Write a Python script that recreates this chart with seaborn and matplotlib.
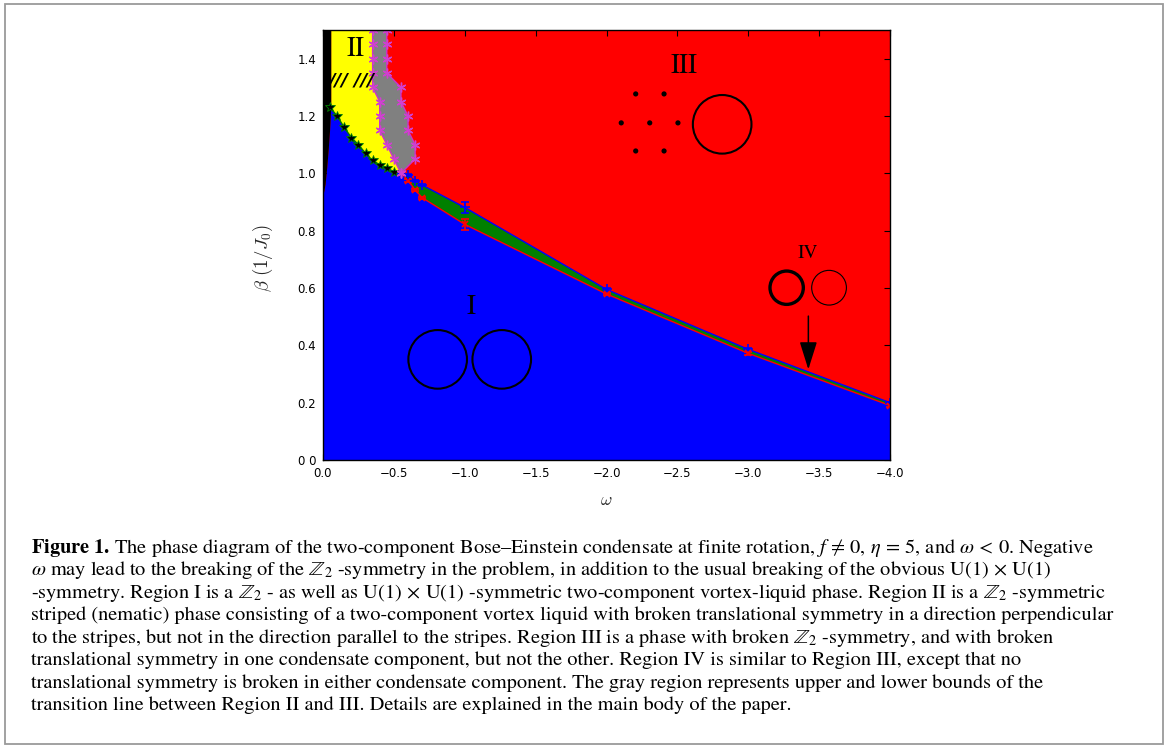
import matplotlib
matplotlib.use("Agg")
import matplotlib.pyplot as plt
from matplotlib.patches import Rectangle
import numpy as np
import pandas as pd
import seaborn as sns

# ---- phase boundaries (omega, beta) ----
# black sliver at omega -> 0 and its edge against region I
edge_w = [-0.058, -0.058, -0.05, -0.04, -0.03, -0.018, 0.0]
edge_b = [1.50, 1.228, 1.15, 1.08, 1.02, 0.96, 0.915]

# II / I boundary (stars)
star_w = [-0.05, -0.10, -0.15, -0.20, -0.25, -0.30, -0.35, -0.40, -0.45, -0.50]
star_b = [1.23, 1.20, 1.16, 1.125, 1.10, 1.07, 1.045, 1.03, 1.02, 1.005]

# gray band: lower and upper bounds of the II / III transition
gray_b = [1.50, 1.45, 1.40, 1.35, 1.30, 1.25, 1.20, 1.15, 1.10, 1.05, 1.00]
gray_lo = [-0.35, -0.35, -0.35, -0.35, -0.35, -0.40, -0.40, -0.40, -0.45, -0.50, -0.55]
gray_hi = [-0.45, -0.45, -0.45, -0.45, -0.55, -0.55, -0.60, -0.60, -0.65, -0.65, -0.55]

# IV band: upper (III side) and lower (I side) boundaries with error bars
band_w = [-0.60, -0.65, -0.70, -1.00, -2.00, -3.00, -4.00]
upper_b = [0.994, 0.974, 0.959, 0.881, 0.595, 0.386, 0.200]
upper_err = [0.004, 0.004, 0.004, 0.020, 0.005, 0.005, 0.004]
lower_b = [0.975, 0.942, 0.915, 0.822, 0.579, 0.372, 0.190]
lower_err = [0.004, 0.004, 0.004, 0.020, 0.005, 0.005, 0.004]

# triangular lattice sketch in region III
dots_w = [-2.206, -2.406, -2.104, -2.305, -2.504, -2.206, -2.406]
dots_b = [1.277, 1.277, 1.176, 1.176, 1.176, 1.078, 1.078]

x_ticks = [0.0, -0.5, -1.0, -1.5, -2.0, -2.5, -3.0, -3.5, -4.0]
x_labels = ["0.0", "\u22120.5", "\u22121.0", "\u22121.5", "\u22122.0", "\u22122.5",
            "\u22123.0", "\u22123.5", "\u22124.0"]
y_ticks = [0.0, 0.2, 0.4, 0.6, 0.8, 1.0, 1.2, 1.4]
y_labels = ["0 0", "0.2", "0.4", "0.6", "0.8", "1.0", "1.2", "1.4"]

caption_lines = [
    r"$\mathbf{Figure\ 1.}\,$The phase diagram of the two-component Bose–Einstein condensate at finite rotation, "
    r"$f\,\neq\,0$, $\eta\,=\,5$, and $\omega\,<\,0$. Negative",
    r"$\omega$ may lead to the breaking of the $\mathbb{Z}_2$ -symmetry in the problem, in addition to the usual "
    r"breaking of the obvious $\mathrm{U}(1)\,\times\,\mathrm{U}(1)$",
    r"-symmetry. Region I is a $\mathbb{Z}_2$ - as well as $\mathrm{U}(1)\,\times\,\mathrm{U}(1)$ -symmetric "
    r"two-component vortex-liquid phase. Region II is a $\mathbb{Z}_2$ -symmetric",
    "striped (nematic) phase consisting of a two-component vortex liquid with broken translational symmetry "
    "in a direction perpendicular",
    r"to the stripes, but not in the direction parallel to the stripes. Region III is a phase with broken "
    r"$\mathbb{Z}_2$ -symmetry, and with broken",
    "translational symmetry in one condensate component, but not the other. Region IV is similar to "
    "Region III, except that no",
    "translational symmetry is broken in either condensate component. The gray region represents upper "
    "and lower bounds of the",
    "transition line between Region II and III. Details are explained in the main body of the paper.",
]

# ---- style ----
sns.set_style("ticks")
plt.rcParams.update({
    "font.family": ["DejaVu Sans"],
    "xtick.direction": "in", "ytick.direction": "in",
    "xtick.top": True, "ytick.right": True,
    "xtick.major.size": 4, "ytick.major.size": 4,
    "xtick.major.width": 0.8, "ytick.major.width": 0.8,
    "axes.linewidth": 1.0, "axes.edgecolor": "black",
    "xtick.color": "black", "ytick.color": "black",
})

W, H = 1168, 749
fig = plt.figure(figsize=(W / 100, H / 100), dpi=100)
fig.patch.set_facecolor("white")
ax = fig.add_axes([323 / W, 1 - 460 / H, (890 - 323) / W, (460 - 30) / H])
ax.set_facecolor("#ff0000")

# region I (blue)
blue_w = [0.0, 0.0] + edge_w[::-1][1:-1] + star_w + [-0.55] + band_w + [-4.0]
blue_b = [0.0, 0.915] + edge_b[::-1][1:-1] + star_b + [1.0] + lower_b + [0.0]
ax.fill(blue_w, blue_b, color="#0000ff", lw=0, zorder=1)

# region IV (green) between the two band lines
green_w = [-0.55] + band_w + band_w[::-1]
green_b = [1.0] + upper_b + lower_b[::-1]
ax.fill(green_w, green_b, color="#008000", lw=0, zorder=2)

# region II (yellow)
yel_w = [-0.058, -0.058] + star_w + gray_lo[::-1]
yel_b = [1.50, 1.228] + star_b + gray_b[::-1]
ax.fill(yel_w, yel_b, color="#ffff00", lw=0, zorder=2)

# gray transition band
ax.fill(gray_lo + gray_hi[::-1], gray_b + gray_b[::-1], color="#808080", lw=0, zorder=3)

# black sliver
ax.fill([0.0] + edge_w, [1.5] + edge_b, color="black", lw=0, zorder=3)

# boundary lines
df_up = pd.DataFrame({"w": [-0.55] + band_w, "b": [1.0] + upper_b})
df_lo = pd.DataFrame({"w": [-0.55] + band_w, "b": [1.0] + lower_b})
sns.lineplot(data=df_up, x="w", y="b", sort=False, estimator=None, color="#0000ff", lw=1.0, ax=ax, zorder=4)
sns.lineplot(data=df_lo, x="w", y="b", sort=False, estimator=None, color="#ff0000", lw=1.0, ax=ax, zorder=4)
ax.errorbar(band_w, upper_b, yerr=upper_err, fmt="+", color="#0000ff", ms=7, mew=1.2,
            elinewidth=1.2, capsize=3, capthick=1.2, zorder=5)
ax.errorbar(band_w, lower_b, yerr=lower_err, fmt="x", color="#ff0000", ms=5, mew=1.2,
            elinewidth=1.2, capsize=3, capthick=1.2, zorder=5)

sns.lineplot(x=star_w, y=star_b, sort=False, estimator=None, color="#008000", lw=1.0, ax=ax, zorder=5)
ax.plot(star_w, star_b, ls="none", marker="*", ms=7, mfc="black", mec="#008000", mew=0.6, zorder=6)

for gw in (gray_lo, gray_hi):
    ax.plot(gw, gray_b, color="#cc33cc", lw=1.0, marker=(6, 2, 0), ms=7, mew=1.0,
            mec="#d040d0", zorder=6, clip_on=True)

# sketches
sns.scatterplot(x=dots_w, y=dots_b, color="black", s=14, edgecolor="none", ax=ax, zorder=7)
ax.scatter([-2.816], [1.171], s=42.2 ** 2, facecolors="none", edgecolors="black", linewidths=1.5, zorder=7)
ax.scatter([-0.809, -1.261], [0.351, 0.351], s=42.2 ** 2, facecolors="none", edgecolors="black",
           linewidths=1.5, zorder=7)
ax.scatter([-3.271], [0.601], s=24.0 ** 2, facecolors="none", edgecolors="black", linewidths=2.4, zorder=7)
ax.scatter([-3.570], [0.601], s=25.0 ** 2, facecolors="none", edgecolors="black", linewidths=0.8, zorder=7)
ax.annotate("", xy=(-3.424, 0.316), xytext=(-3.424, 0.502),
            arrowprops=dict(arrowstyle="-|>,head_length=0.86,head_width=0.27", color="black",
                            lw=1.1, shrinkA=0, shrinkB=0, mutation_scale=20), zorder=8)

serif = dict(family="STIXGeneral", ha="center", va="center", color="black", zorder=8)
ax.text(-0.226, 1.432, "II", fontsize=19.5, **serif)
ax.text(-2.547, 1.374, "III", fontsize=19.5, **serif)
ax.text(-1.044, 0.532, "I", fontsize=19.5, **serif)
ax.text(-3.424, 0.721, "IV", fontsize=14, **serif)
ax.text(-0.202, 1.324, "/// ///", fontsize=13, family="DejaVu Sans", style="italic",
        fontweight="bold", ha="center", va="center", color="black", zorder=8)

ax.set_xlim(0, -4)
ax.set_ylim(0, 1.5)
ax.set_xticks(x_ticks)
ax.set_xticklabels(x_labels, fontsize=8.5)
ax.set_yticks(y_ticks)
ax.set_yticklabels(y_labels, fontsize=8.5)
ax.tick_params(axis="x", pad=5)
ax.tick_params(axis="y", pad=5)
ax.set_xlabel(r"$\omega$", fontsize=12.5, math_fontfamily="cm", labelpad=8)
ax.set_ylabel(r"$\beta\ (1/J_0)$", fontsize=13.5, math_fontfamily="cm", labelpad=9)
ax.yaxis.set_label_coords(-0.085, 0.47)
for s in ax.spines.values():
    s.set_zorder(10)

# caption
for i, line in enumerate(caption_lines):
    fig.text(31 / W, 1 - (553 + i * 22.45) / H, line, fontsize=14.7, family="STIXGeneral",
             math_fontfamily="stix", ha="left", va="baseline", color="black")

fig.patches.append(Rectangle((5 / W, 5 / H), 1158 / W, 740 / H, transform=fig.transFigure,
                             fill=False, edgecolor="#9a9a9a", lw=1.3))

fig.savefig("out.png", dpi=100)
